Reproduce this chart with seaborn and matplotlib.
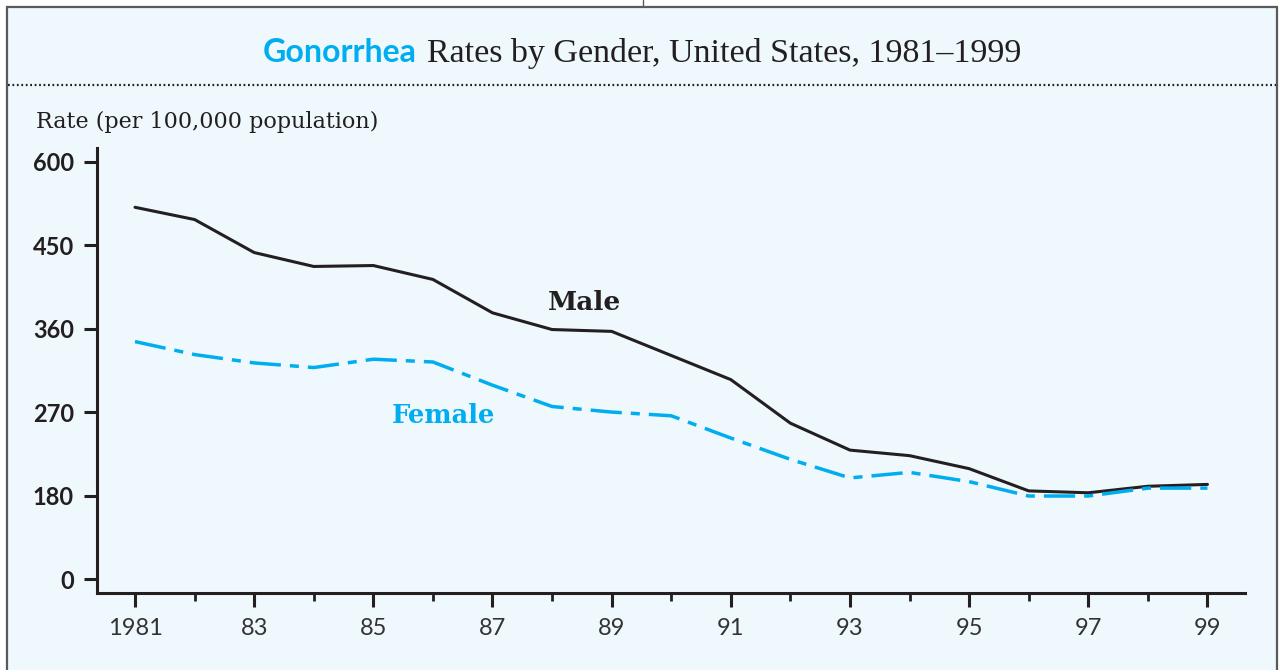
#!/usr/bin/env python3

import numpy as np
import pandas as pd
import matplotlib.pyplot as plt
from matplotlib.lines import Line2D
from matplotlib.patches import Rectangle
import seaborn as sns


years = list(range(1981, 2000))
male = [518, 496, 442, 427, 428, 413, 377, 359, 357, 331, 305, 258, 229, 223, 209, 185, 183, 190, 192]
female = [346, 332, 323, 318, 327, 324, 299, 276, 270, 266, 242, 219, 199, 205, 195, 179, 179, 188, 188]

y_ticks = [0, 180, 270, 360, 450, 600]
x_major = list(range(1981, 2000, 2))
x_labels = ["1981", "83", "85", "87", "89", "91", "93", "95", "97", "99"]

BLUE = "#00aeef"
INK = "#231f20"
BOX = "#eef8fd"

sns.set_style("ticks")
plt.rcParams["font.family"] = ["Lato", "DejaVu Sans"]

data = pd.DataFrame({"Year": years, "Male": male, "Female": female})

W, H = 1284, 670
fig = plt.figure(figsize=(W / 100, H / 100), dpi=100, facecolor="white")

# light blue panel with grey frame
fig.patches.append(Rectangle((7 / W, -0.02), (1277 - 7) / W, 1 - 7 / H + 0.02,
                             transform=fig.transFigure, facecolor=BOX,
                             edgecolor="#5a5a5a", lw=1.6, zorder=-5))
fig.lines.append(Line2D([643 / W, 643 / W], [1, 1 - 7 / H], transform=fig.transFigure,
                        color="#5a5a5a", lw=1.0, zorder=-4))
fig.lines.append(Line2D([8 / W, 1276 / W], [1 - 85 / H] * 2, transform=fig.transFigure,
                        color=INK, lw=1.6, ls=(0, (0.8, 1.2)), zorder=-4))

ax = fig.add_axes([96.7 / W, 1 - 592.7 / H, (1245 - 96.7) / W, (592.7 - 148.3) / H])
ax.patch.set_alpha(0)

# y axis: equal spacing between uneven tick values (piecewise linear)
seg_vals = np.array([-180, 0, 180, 270, 360, 450, 600, 750])
seg_idx = np.array([-1, 0, 1, 2, 3, 4, 5, 6])
ax.set_yscale("function", functions=(lambda v: np.interp(v, seg_vals, seg_idx),
                                     lambda u: np.interp(u, seg_idx, seg_vals)))

sns.lineplot(data=data, x="Year", y="Male", color=INK, lw=2.2, ax=ax)
sns.lineplot(data=data, x="Year", y="Female", color=BLUE, lw=2.5, ax=ax)
ax.lines[-1].set_dashes((9, 2.6, 2.6, 2.6))

ax.set_xlim(1980.357, 1999.63)
ax.set_ylim(-29.5, 624)

sns.despine(ax=ax)
for side in ["left", "bottom"]:
    ax.spines[side].set_linewidth(2.2)
    ax.spines[side].set_color(INK)

ax.set_yticks(y_ticks)
ax.set_yticklabels([str(v) for v in y_ticks])
ax.set_yticks([], minor=True)
ax.set_xticks(x_major)
ax.set_xticklabels(x_labels)
ax.set_xticks(list(range(1982, 1999, 2)), minor=True)

ax.tick_params(axis="y", which="major", length=9.5, width=2.2, color=INK, pad=7,
               labelsize=17, labelcolor=INK)
ax.tick_params(axis="x", which="major", length=10, width=2.2, color=INK, pad=8,
               labelsize=17, labelcolor="#333333")
ax.tick_params(axis="x", which="minor", length=5.8, width=2.0, color=INK)
for lab in ax.get_yticklabels():
    lab.set_fontweight("bold")

ax.set_xlabel("")
ax.set_ylabel("")

ax.text(1988.55, 388, "Male", ha="center", va="center", fontsize=19,
        fontweight="bold", family="DejaVu Serif", color=INK)
ax.text(1986.18, 266, "Female", ha="center", va="center", fontsize=18.5,
        fontweight="bold", family="DejaVu Serif", color=BLUE)

fig.text(36 / W, 1 - 128 / H, "Rate (per 100,000 population)", ha="left", va="baseline",
         fontsize=16, family="DejaVu Serif", color=INK)

# two-colour title, centred as one line
t1 = fig.text(0, 1 - 62 / H, "Gonorrhea", ha="left", va="baseline", fontsize=23,
              fontweight="bold", family="Lato", color=BLUE)
t2 = fig.text(0, 1 - 62 / H, "Rates by Gender, United States, 1981\u20131999", ha="left",
              va="baseline", fontsize=24.5, family="Liberation Serif", color=INK)
fig.canvas.draw()
r = fig.canvas.get_renderer()
w1 = t1.get_window_extent(r).width
w2 = t2.get_window_extent(r).width
gap = 10
x0 = 642 - (w1 + gap + w2) / 2
t1.set_x(x0 / W)
t2.set_x((x0 + w1 + gap) / W)

fig.savefig("out.png", dpi=100, facecolor="white")
